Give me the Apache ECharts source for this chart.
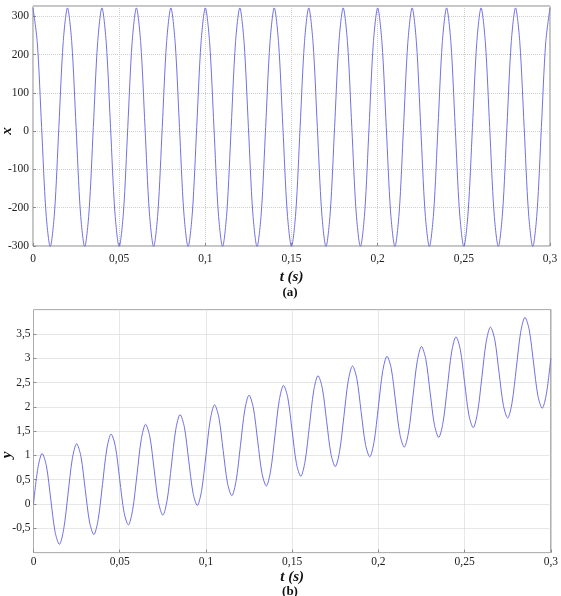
<!DOCTYPE html>
<html>
<head>
<meta charset="utf-8">
<script src="https://cdn.jsdelivr.net/npm/echarts@6/dist/echarts.min.js"></script>
<style>
  html, body { margin: 0; padding: 0; background: #fff; }
  #main { width: 561px; height: 596px; }
</style>
</head>
<body>
<div id="main"></div>
<script>
// time samples (s), every 1/8 of a period
var tValues = [
  0.0000, 0.0025, 0.0050, 0.0075, 0.0100, 0.0125, 0.0150, 0.0175,
  0.0200, 0.0225, 0.0250, 0.0275, 0.0300, 0.0325, 0.0350, 0.0375,
  0.0400, 0.0425, 0.0450, 0.0475, 0.0500, 0.0525, 0.0550, 0.0575,
  0.0600, 0.0625, 0.0650, 0.0675, 0.0700, 0.0725, 0.0750, 0.0775,
  0.0800, 0.0825, 0.0850, 0.0875, 0.0900, 0.0925, 0.0950, 0.0975,
  0.1000, 0.1025, 0.1050, 0.1075, 0.1100, 0.1125, 0.1150, 0.1175,
  0.1200, 0.1225, 0.1250, 0.1275, 0.1300, 0.1325, 0.1350, 0.1375,
  0.1400, 0.1425, 0.1450, 0.1475, 0.1500, 0.1525, 0.1550, 0.1575,
  0.1600, 0.1625, 0.1650, 0.1675, 0.1700, 0.1725, 0.1750, 0.1775,
  0.1800, 0.1825, 0.1850, 0.1875, 0.1900, 0.1925, 0.1950, 0.1975,
  0.2000, 0.2025, 0.2050, 0.2075, 0.2100, 0.2125, 0.2150, 0.2175,
  0.2200, 0.2225, 0.2250, 0.2275, 0.2300, 0.2325, 0.2350, 0.2375,
  0.2400, 0.2425, 0.2450, 0.2475, 0.2500, 0.2525, 0.2550, 0.2575,
  0.2600, 0.2625, 0.2650, 0.2675, 0.2700, 0.2725, 0.2750, 0.2775,
  0.2800, 0.2825, 0.2850, 0.2875, 0.2900, 0.2925, 0.2950, 0.2975,
  0.3000
];

// (a) x
var xValues = [
  322, 231, 10, -211, -302, -211, 10, 231,
  322, 231, 10, -211, -302, -211, 10, 231,
  322, 231, 10, -211, -302, -211, 10, 231,
  322, 231, 10, -211, -302, -211, 10, 231,
  322, 231, 10, -211, -302, -211, 10, 231,
  322, 231, 10, -211, -302, -211, 10, 231,
  322, 231, 10, -211, -302, -211, 10, 231,
  322, 231, 10, -211, -302, -211, 10, 231,
  322, 231, 10, -211, -302, -211, 10, 231,
  322, 231, 10, -211, -302, -211, 10, 231,
  322, 231, 10, -211, -302, -211, 10, 231,
  322, 231, 10, -211, -302, -211, 10, 231,
  322, 231, 10, -211, -302, -211, 10, 231,
  322, 231, 10, -211, -302, -211, 10, 231,
  322, 231, 10, -211, -302, -211, 10, 231,
  322
];

// (b) y
var yValues = [
  0.00, 0.73, 1.04, 0.78, 0.10, -0.57, -0.83, -0.52,
  0.20, 0.93, 1.24, 0.98, 0.30, -0.37, -0.63, -0.32,
  0.40, 1.13, 1.44, 1.18, 0.50, -0.17, -0.43, -0.12,
  0.60, 1.33, 1.64, 1.38, 0.70, 0.03, -0.23, 0.08,
  0.80, 1.53, 1.84, 1.58, 0.90, 0.23, -0.03, 0.28,
  1.00, 1.73, 2.04, 1.78, 1.10, 0.43, 0.17, 0.48,
  1.20, 1.93, 2.24, 1.98, 1.30, 0.63, 0.37, 0.68,
  1.40, 2.13, 2.44, 2.18, 1.50, 0.83, 0.57, 0.88,
  1.60, 2.33, 2.64, 2.38, 1.70, 1.03, 0.77, 1.08,
  1.80, 2.53, 2.84, 2.58, 1.90, 1.23, 0.97, 1.28,
  2.00, 2.73, 3.04, 2.78, 2.10, 1.43, 1.17, 1.48,
  2.20, 2.93, 3.24, 2.98, 2.30, 1.63, 1.37, 1.68,
  2.40, 3.13, 3.44, 3.18, 2.50, 1.83, 1.57, 1.88,
  2.60, 3.33, 3.64, 3.38, 2.70, 2.03, 1.77, 2.08,
  2.80, 3.53, 3.84, 3.58, 2.90, 2.23, 1.97, 2.28,
  3.00
];

var serif = '"Liberation Serif", "DejaVu Serif", serif';
var lineColor = '#7171e2';
var gridColor = '#cfcfcf';
var boxColor = '#8a8a8a';

function comma(v) {
  var r = Math.round(v * 1000) / 1000;
  return String(r).replace('.', ',');
}

function pairs(ts, vs) {
  var out = [];
  for (var i = 0; i < ts.length; i++) {
    out.push([ts[i], vs[i]]);
  }
  return out;
}

function tAxis(gridIndex, labelMargin, nameGap) {
  return {
    type: 'value', gridIndex: gridIndex,
    min: 0, max: 0.3, interval: 0.05,
    name: 't (s)', nameLocation: 'middle', nameGap: nameGap,
    nameTextStyle: { fontFamily: serif, fontSize: 15, fontWeight: 'bold', fontStyle: 'italic', color: '#111' },
    axisLine: { show: false, onZero: false },
    axisTick: { show: true, inside: true, length: 3, lineStyle: { color: boxColor } },
    axisLabel: { margin: labelMargin, fontFamily: serif, fontSize: 11.5, color: '#222', formatter: comma },
    splitLine: { show: true, lineStyle: { color: gridColor, type: 'dotted', width: 1 } }
  };
}

var chart = echarts.init(document.getElementById('main'), null, { renderer: 'canvas' });

var option = {
  animation: false,
  backgroundColor: '#fff',
  grid: [
    { left: 33, right: 11, top: 6, height: 240, show: true, borderColor: boxColor, borderWidth: 1, containLabel: false },
    { left: 33.5, right: 10, top: 309.6, height: 243, show: true, borderColor: boxColor, borderWidth: 1, containLabel: false }
  ],
  xAxis: [
    tAxis(0, 7, 24),
    tAxis(1, 3, 17)
  ],
  yAxis: [
    {
      type: 'value', gridIndex: 0,
      min: -300, max: 327, interval: 100,
      axisLine: { show: false, onZero: false },
      axisTick: { show: true, inside: true, length: 3, lineStyle: { color: boxColor } },
      axisLabel: { margin: 4, fontFamily: serif, fontSize: 11.5, color: '#222', showMaxLabel: false },
      splitLine: { show: true, lineStyle: { color: gridColor, type: 'dotted', width: 1 } }
    },
    {
      type: 'value', gridIndex: 1,
      min: -1, max: 4, interval: 0.5,
      axisLine: { show: false, onZero: false },
      axisTick: { show: true, inside: true, length: 3, lineStyle: { color: boxColor } },
      axisLabel: { margin: 3, fontFamily: serif, fontSize: 11.5, color: '#222', formatter: comma,
        showMinLabel: false, showMaxLabel: false },
      splitLine: { show: true, lineStyle: { color: gridColor, type: 'dotted', width: 1 } }
    }
  ],
  graphic: [
    { type: 'text', x: 7, y: 131, rotation: Math.PI / 2,
      style: { text: 'x', align: 'center', verticalAlign: 'middle', fill: '#111',
        font: 'italic bold 15px ' + serif } },
    { type: 'text', x: 7, y: 455, rotation: Math.PI / 2,
      style: { text: 'y', align: 'center', verticalAlign: 'middle', fill: '#111',
        font: 'italic bold 15px ' + serif } },
    { type: 'text', x: 290, y: 293,
      style: { text: '(a)', align: 'center', verticalAlign: 'middle', fill: '#111',
        font: 'bold 13px ' + serif } },
    { type: 'text', x: 290, y: 592,
      style: { text: '(b)', align: 'center', verticalAlign: 'middle', fill: '#111',
        font: 'bold 13px ' + serif } }
  ],
  series: [
    {
      name: 'x', type: 'line', xAxisIndex: 0, yAxisIndex: 0,
      data: pairs(tValues, xValues),
      smooth: 0.3, showSymbol: false, clip: true,
      lineStyle: { color: lineColor, width: 1 }
    },
    {
      name: 'y', type: 'line', xAxisIndex: 1, yAxisIndex: 1,
      data: pairs(tValues, yValues),
      smooth: 0.3, showSymbol: false, clip: true,
      lineStyle: { color: lineColor, width: 1 }
    }
  ]
};

chart.setOption(option);
</script>
</body>
</html>
